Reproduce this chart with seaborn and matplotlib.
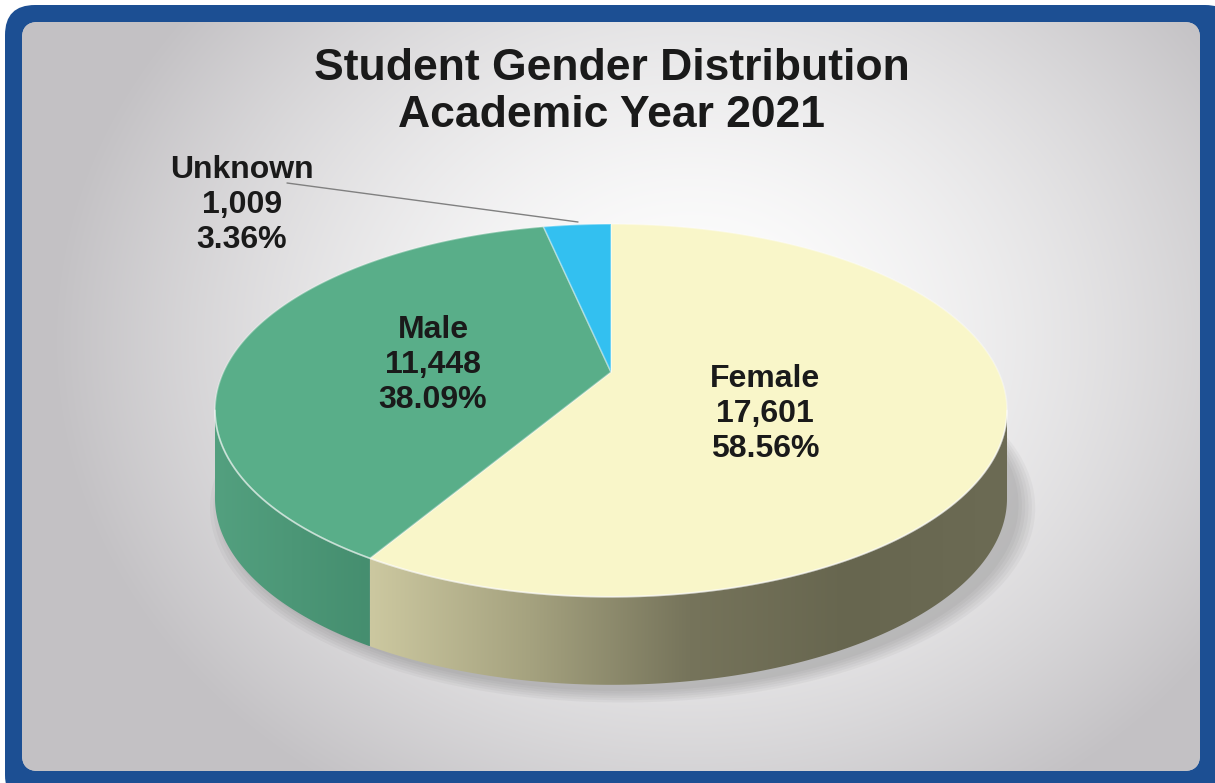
import numpy as np
import matplotlib
matplotlib.use("Agg")
import matplotlib.pyplot as plt
import matplotlib.transforms as mtransforms
from matplotlib.path import Path
from matplotlib.patches import FancyBboxPatch, Polygon
from matplotlib.colors import LinearSegmentedColormap, to_rgb
import seaborn as sns

# data
categories = ["Female", "Male", "Unknown"]
counts = [17601, 11448, 1009]
title_lines = ["Student Gender Distribution", "Academic Year 2021"]

sns.set_theme(style="white")
plt.rcParams['font.family'] = ['Liberation Sans', 'DejaVu Sans']

top_colors = ["#f9f6c9", "#59ae89", "#33c0f0"]
side_colors = [["#ccc8a0", "#a5a27f", "#76745b", "#67664f", "#6c6b54"],
               ["#53a07f", "#458e6f"],
               ["#22a0d0", "#1c8ab8"]]
label_pos = [(765, 414), (433, 365), (242, 205)]


class Persp(mtransforms.Transform):
    """simple perspective tilt: far side (y>0) shrinks"""
    input_dims = 2
    output_dims = 2

    def __init__(self, k):
        super().__init__()
        self.k = k

    def transform_non_affine(self, xy):
        xy = np.asarray(xy, dtype=float)
        d = 1 + self.k * xy[:, 1]
        return np.column_stack([xy[:, 0] / d, xy[:, 1] / d])

    def transform_path_non_affine(self, path):
        # flatten the arcs finely before bending them
        s = 2000.0
        polys = path.to_polygons(transform=mtransforms.Affine2D().scale(s),
                                 closed_only=False)
        verts, codes = [], []
        for p in polys:
            verts.append(self.transform_non_affine(p / s))
            c = np.full(len(p), Path.LINETO)
            c[0] = Path.MOVETO
            codes.append(c)
        return Path(np.concatenate(verts), np.concatenate(codes))


W, H = 1215, 783
fig = plt.figure(figsize=(12.15, 7.83), dpi=100)
fig.patch.set_facecolor("white")

# background frame with gradient
bg = fig.add_axes([0, 0, 1, 1])
bg.axis("off")
outer = FancyBboxPatch((5, 5), 1230, 800, boxstyle="round,pad=0,rounding_size=30",
                       fc="#1c4f93", ec="none", zorder=1)
bg.add_patch(outer)
inner = FancyBboxPatch((22, 22), 1178, 749, boxstyle="round,pad=0,rounding_size=16",
                       fc="#d8d8d8", ec="none", zorder=1)
bg.add_patch(inner)
yy, xx = np.mgrid[0:H, 0:W]
t = np.sqrt(((xx - 690) / 640.0) ** 2 + ((yy - 340) / 540.0) ** 2)
t = np.clip(t, 0, 1) ** 1.6
c0 = np.array([1.0, 1.0, 1.0])
c1 = np.array(to_rgb("#c3c1c4"))
img = c0 * (1 - t[..., None]) + c1 * t[..., None]
im = bg.imshow(img, extent=(0, W, H, 0), zorder=2, aspect="auto")
im.set_clip_path(inner)
bg.set_xlim(0, W)
bg.set_ylim(H, 0)

# title
bg.text(612, 92, "\n".join(title_lines), ha="center", va="center", fontsize=32,
        fontweight="bold", color="#1a1a1a", linespacing=1.19, zorder=5)

# leader line for the small slice
bg.plot([287, 578], [183, 222], color="#808080", lw=1, zorder=4)

# pie geometry (pixels): centre, horizontal / vertical scale, tilt, depth
cx, cy, sx, sy, k = 611, 372, 387.5, 178.5, 0.206
depth = 88.0 / sy
persp = Persp(k)

pa = fig.add_axes([0, 0, 1, 1])
pa.patch.set_alpha(0)
wedges, _ = pa.pie(counts, startangle=90, counterclock=False, colors=top_colors,
                   wedgeprops=dict(edgecolor=(1, 1, 1, 0.35), linewidth=1.2))
for w in wedges:
    w.set_transform(persp + pa.transData)
    w.set_zorder(4)


def rim(t_lo, t_hi, r=1.0, n=300):
    th = np.radians(np.linspace(t_lo, t_hi, n))
    return persp.transform(np.c_[r * np.cos(th), r * np.sin(th)])


# soft shadow under the pie
for i in range(6):
    p = rim(0, 360, r=1.0 + 0.008 * i)
    p[:, 0] += 0.03
    p[:, 1] -= depth + 0.035
    pa.add_patch(Polygon(p, closed=True, fc="#505050", ec="none",
                         alpha=0.05, zorder=0.5))

# side walls, visible between the left and right silhouette points
vis_lo = -180 + np.degrees(np.arcsin(k))
vis_hi = -np.degrees(np.arcsin(k))
for w, cols in zip(wedges, side_colors):
    t1, t2 = w.theta1, w.theta2
    for j in (-1, 0, 1):
        lo = max(t1, vis_lo + 360 * j)
        hi = min(t2, vis_hi + 360 * j)
        if hi <= lo:
            continue
        top = rim(lo, hi)
        bot = top[::-1].copy()
        bot[:, 1] -= depth
        verts = np.concatenate([top, bot])
        poly = Polygon(verts, closed=True, fc="none", ec="none")
        pa.add_patch(poly)
        cmap = LinearSegmentedColormap.from_list("side", cols)
        grad = np.linspace(0, 1, 256)[None, :]
        gi = pa.imshow(grad, extent=(verts[:, 0].min(), verts[:, 0].max(),
                                     verts[:, 1].min(), verts[:, 1].max()),
                       cmap=cmap, aspect="auto", zorder=1, interpolation="bilinear")
        gi.set_clip_path(poly)

# light rim on the front edge
front = rim(vis_lo, vis_hi)
pa.plot(front[:, 0], front[:, 1], color="white", alpha=0.45, lw=1.3, zorder=5)

pa.set_aspect("auto")
pa.set_xlim(-cx / sx, (W - cx) / sx)
pa.set_ylim(-(H - cy) / sy, cy / sy)
pa.axis("off")

# labels
total = sum(counts)
for cat, n, (lx, ly) in zip(categories, counts, label_pos):
    pct = n / total * 100
    pa.text(lx, ly, f"{cat}\n{n:,}\n{pct:.2f}%", transform=bg.transData,
            ha="center", va="center", fontsize=23, fontweight="bold",
            color="#1a1a1a", zorder=6)

fig.savefig("out.png", dpi=100)
